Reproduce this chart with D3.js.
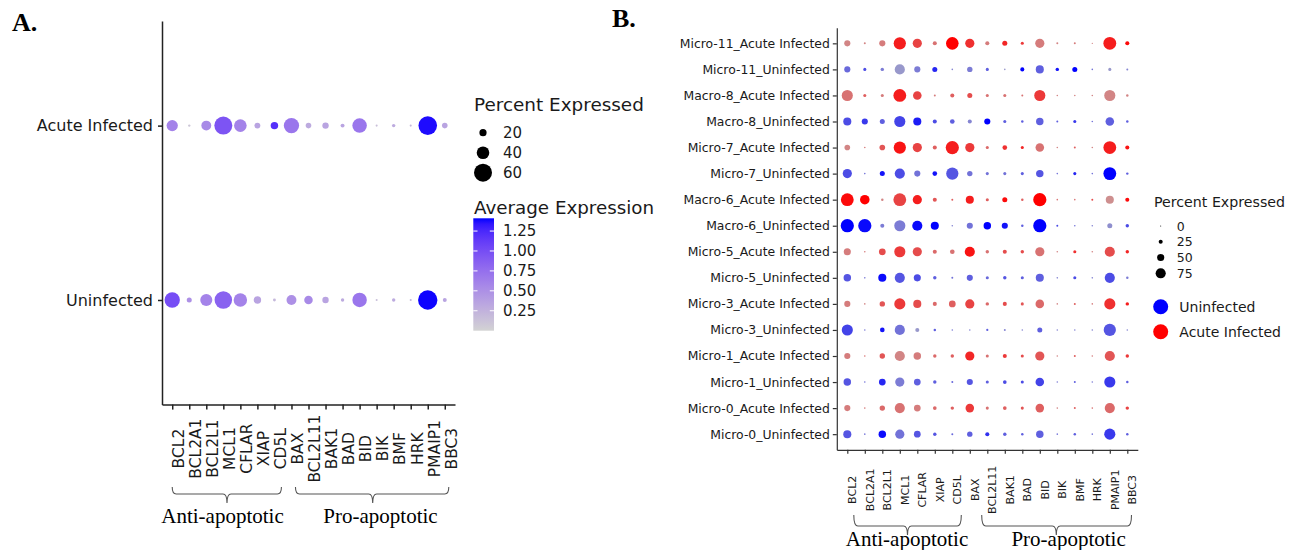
<!DOCTYPE html>
<html>
<head>
<meta charset="utf-8">
<script src="https://cdn.jsdelivr.net/npm/d3@7"></script>
<style>
  body { margin: 0; background: #fff; }
  svg { display: block; }
  .sans { font-family: "DejaVu Sans", sans-serif; }
  .serif { font-family: "Liberation Serif", "Times New Roman", serif; }
</style>
</head>
<body>
<svg id="chart" width="1303" height="550"></svg>
<script>
// genes on the x axis (both panels)
const genes = ["BCL2", "BCL2A1", "BCL2L1", "MCL1", "CFLAR", "XIAP", "CD5L", "BAX",
  "BCL2L11", "BAK1", "BAD", "BID", "BIK", "BMF", "HRK", "PMAIP1", "BBC3"];

// panel A: two groups
const groupsA = ["Acute Infected", "Uninfected"];
const pctAcuteA = [35, 2, 30, 60, 40, 15, 21, 50, 14, 17, 8, 47, 1, 6, 1, 62, 14];
const pctUninfA = [50, 12, 38, 58, 43, 21, 4, 30, 25, 17, 6, 47, 1, 6, 1, 65, 8];
const avgAcuteA = [0.6, 0.1, 0.55, 0.95, 0.6, 0.35, 1.2, 0.7, 0.3, 0.35, 0.35, 0.7, 0.15, 0.3, 0.2, 1.38, 0.35];
const avgUninfA = [1.0, 0.5, 0.6, 0.85, 0.6, 0.35, 0.2, 0.5, 0.55, 0.35, 0.3, 0.7, 0.15, 0.3, 0.2, 1.4, 0.35];
const sizeTicksA = [20, 40, 60];
const colorTicksA = [1.25, 1.00, 0.75, 0.50, 0.25];

// panel B: cluster x condition
const rowsB = ["Micro-11_Acute Infected", "Micro-11_Uninfected", "Macro-8_Acute Infected", "Macro-8_Uninfected",
  "Micro-7_Acute Infected", "Micro-7_Uninfected", "Macro-6_Acute Infected", "Macro-6_Uninfected",
  "Micro-5_Acute Infected", "Micro-5_Uninfected", "Micro-3_Acute Infected", "Micro-3_Uninfected",
  "Micro-1_Acute Infected", "Micro-1_Uninfected", "Micro-0_Acute Infected", "Micro-0_Uninfected"];
const pctB = [
  [42, 8, 42, 92, 67, 25, 95, 67, 25, 33, 17, 67, 8, 8, 3, 97, 25],
  [42, 17, 20, 75, 42, 33, 5, 36, 17, 5, 25, 58, 20, 33, 5, 17, 8],
  [83, 17, 17, 97, 62, 8, 25, 33, 17, 17, 8, 83, 5, 5, 5, 83, 12],
  [58, 42, 33, 83, 58, 25, 30, 25, 42, 17, 12, 53, 8, 17, 5, 62, 12],
  [38, 5, 38, 92, 67, 25, 100, 67, 17, 30, 17, 62, 5, 8, 5, 97, 25],
  [67, 5, 33, 75, 42, 30, 92, 36, 17, 17, 17, 53, 5, 17, 5, 97, 12],
  [97, 70, 12, 97, 67, 25, 8, 58, 17, 33, 12, 100, 5, 5, 8, 58, 25],
  [100, 100, 25, 83, 75, 58, 5, 42, 53, 42, 12, 100, 8, 5, 5, 33, 20],
  [50, 5, 47, 83, 67, 25, 30, 75, 20, 25, 20, 67, 5, 17, 5, 75, 20],
  [53, 5, 58, 75, 50, 20, 8, 42, 17, 20, 17, 58, 5, 17, 5, 75, 12],
  [42, 5, 36, 83, 58, 25, 47, 67, 20, 25, 17, 62, 5, 8, 5, 83, 20],
  [83, 5, 30, 75, 25, 12, 5, 5, 10, 8, 5, 33, 5, 5, 5, 92, 5],
  [42, 5, 36, 75, 53, 20, 20, 67, 17, 25, 17, 67, 5, 8, 5, 75, 20],
  [53, 5, 47, 67, 47, 20, 8, 42, 17, 22, 17, 62, 5, 8, 5, 83, 12],
  [42, 5, 36, 75, 47, 22, 20, 62, 17, 22, 17, 62, 5, 8, 5, 75, 20],
  [58, 5, 53, 67, 47, 20, 8, 36, 25, 20, 12, 53, 5, 12, 5, 83, 12]
];
// 0 = grey, 1 = full group colour
const levelB = [
  [0.3, 0.3, 0.35, 0.85, 0.65, 0.4, 1.0, 0.75, 0.35, 0.8, 0.7, 0.35, 0.3, 0.35, 0.3, 0.85, 0.95],
  [0.45, 0.6, 0.35, 0.2, 0.35, 0.8, 0.3, 0.35, 0.5, 0.2, 1.0, 0.5, 0.9, 1.0, 0.4, 0.2, 0.3],
  [0.4, 0.5, 0.35, 0.85, 0.65, 0.35, 0.5, 0.6, 0.4, 0.4, 0.4, 0.7, 0.3, 0.3, 0.3, 0.3, 0.3],
  [0.6, 0.7, 0.5, 0.65, 0.85, 0.6, 0.5, 0.3, 1.0, 0.5, 0.5, 0.5, 0.5, 0.7, 0.4, 0.5, 0.5],
  [0.3, 0.35, 0.55, 0.9, 0.65, 0.5, 0.85, 0.7, 0.45, 0.75, 0.8, 0.4, 0.3, 0.5, 0.3, 0.85, 0.9],
  [0.6, 0.4, 0.9, 0.6, 0.4, 0.9, 0.55, 0.4, 0.4, 0.4, 0.5, 0.55, 0.4, 0.8, 0.4, 1.0, 0.5],
  [0.95, 1.0, 0.3, 0.65, 0.85, 0.55, 0.5, 0.85, 0.5, 0.95, 0.5, 1.0, 0.4, 0.4, 0.6, 0.25, 0.95],
  [1.0, 0.95, 0.35, 0.35, 0.95, 1.0, 0.3, 0.4, 1.0, 0.9, 0.5, 1.0, 0.6, 0.4, 0.3, 0.25, 0.6],
  [0.35, 0.35, 0.6, 0.7, 0.6, 0.45, 0.4, 0.9, 0.4, 0.6, 0.6, 0.4, 0.3, 0.75, 0.3, 0.6, 0.8],
  [0.55, 0.35, 0.95, 0.55, 0.6, 0.5, 0.4, 0.5, 0.45, 0.55, 0.5, 0.5, 0.3, 0.6, 0.3, 0.6, 0.35],
  [0.35, 0.3, 0.55, 0.7, 0.6, 0.45, 0.5, 0.65, 0.45, 0.6, 0.55, 0.45, 0.3, 0.5, 0.35, 0.75, 0.85],
  [0.65, 0.35, 0.9, 0.4, 0.2, 0.5, 0.35, 0.3, 0.5, 0.3, 0.3, 0.5, 0.3, 0.3, 0.3, 0.55, 0.3],
  [0.35, 0.4, 0.55, 0.3, 0.35, 0.45, 0.5, 0.8, 0.4, 0.7, 0.6, 0.55, 0.3, 0.5, 0.35, 0.55, 0.7],
  [0.55, 0.4, 0.8, 0.35, 0.5, 0.5, 0.45, 0.55, 0.5, 0.6, 0.6, 0.65, 0.35, 0.5, 0.35, 0.7, 0.5],
  [0.35, 0.35, 0.45, 0.4, 0.35, 0.45, 0.5, 0.7, 0.4, 0.5, 0.55, 0.5, 0.3, 0.5, 0.4, 0.45, 0.65],
  [0.55, 0.4, 0.95, 0.4, 0.55, 0.55, 0.45, 0.5, 0.75, 0.5, 0.5, 0.5, 0.4, 0.5, 0.4, 0.7, 0.5]
];
const sizeTicksB = [0, 25, 50, 75];
const conditionsB = ["Uninfected", "Acute Infected"];
const conditionColors = ["blue", "red"];

const svg = d3.select("#chart");
svg.append("rect").attr("width", 1303).attr("height", 550).attr("fill", "#fff");

// ---------- panel A ----------
const xA = d3.scalePoint().domain(genes).range([162, 455]).padding(0.6);
const yA = d3.scalePoint().domain(groupsA).range([21, 404.6]).padding(0.6);
const rA = d3.scaleLinear().domain([0, 60]).range([0.9, 9]);
const colorA = d3.scaleLinear().domain([0, 1.41]).range(["lightgrey", "blue"])
  .interpolate(d3.interpolateLab);

const gA = svg.append("g");

gA.append("text").attr("class", "serif").attr("x", 12).attr("y", 31)
  .attr("font-size", 26).attr("font-weight", "bold").text("A.");

const dotsA = [];
genes.forEach((g, i) => {
  dotsA.push({ gene: g, group: groupsA[0], pct: pctAcuteA[i], avg: avgAcuteA[i] });
  dotsA.push({ gene: g, group: groupsA[1], pct: pctUninfA[i], avg: avgUninfA[i] });
});

gA.append("g").selectAll("circle")
  .data(dotsA)
  .enter()
  .append("circle")
  .attr("cx", d => xA(d.gene))
  .attr("cy", d => yA(d.group))
  .attr("r", d => rA(d.pct))
  .attr("fill", d => colorA(d.avg));

const axA = gA.append("g").attr("transform", "translate(162,0)")
  .call(d3.axisLeft(yA).tickSize(4).tickPadding(5).tickSizeOuter(0));
axA.selectAll("text").attr("class", "sans").attr("font-size", 16).attr("fill", "#1a1a1a");

const axAx = gA.append("g").attr("transform", "translate(0,404.6)")
  .call(d3.axisBottom(xA).tickSize(5).tickSizeOuter(0));
axAx.selectAll("text")
  .attr("class", "sans").attr("font-size", 15.5).attr("fill", "#1a1a1a")
  .attr("transform", "rotate(-90)")
  .attr("text-anchor", "middle")
  .attr("x", -44).attr("y", 11.3).attr("dy", 0);

[axA, axAx].forEach(a => {
  a.select(".domain").attr("stroke", "#222").attr("stroke-width", 1.5);
  a.selectAll(".tick line").attr("stroke", "#222").attr("stroke-width", 1.5);
});

function brace(g, x1, x2, cx, yTop, yH, yTip) {
  const q = 4;
  const p = `M${x1},${yTop} Q${x1},${yH} ${x1 + q},${yH} L${cx - q},${yH} Q${cx},${yH} ${cx},${yTip}`
    + ` M${cx},${yTip} Q${cx},${yH} ${cx + q},${yH} L${x2 - q},${yH} Q${x2},${yH} ${x2},${yTop}`;
  g.append("path").attr("d", p).attr("fill", "none").attr("stroke", "#555").attr("stroke-width", 1.1);
}

brace(gA, xA("BCL2"), xA("CD5L") + 7, 227, 487, 494, 503);
brace(gA, xA("BAX") + 4, xA("BBC3") + 4, 372.7, 487, 494, 503);
gA.append("text").attr("class", "serif").attr("font-size", 21).attr("text-anchor", "middle")
  .attr("x", 222.5).attr("y", 523).text("Anti-apoptotic");
gA.append("text").attr("class", "serif").attr("font-size", 21).attr("text-anchor", "middle")
  .attr("x", 380.5).attr("y", 523).text("Pro-apoptotic");

// legend A: size
const legA = gA.append("g");
legA.append("text").attr("class", "sans").attr("x", 474).attr("y", 110.7)
  .attr("font-size", 18.4).attr("fill", "#1a1a1a").text("Percent Expressed");
const sizeY = d3.scalePoint().domain(sizeTicksA).range([132.7, 172.7]);
legA.selectAll(".sz").data(sizeTicksA).enter().append("circle")
  .attr("cx", 483).attr("cy", d => sizeY(d)).attr("r", d => rA(d)).attr("fill", "#000");
legA.selectAll(".szl").data(sizeTicksA).enter().append("text")
  .attr("class", "sans").attr("x", 503).attr("y", d => sizeY(d)).attr("dy", "0.36em")
  .attr("font-size", 15).attr("fill", "#1a1a1a").text(d => d);

// legend A: colour bar
legA.append("text").attr("class", "sans").attr("x", 474).attr("y", 214)
  .attr("font-size", 18.3).attr("fill", "#1a1a1a").text("Average Expression");
const barY = d3.scaleLinear().domain(colorA.domain()).range([330.7, 218.3]);
const grad = svg.append("defs").append("linearGradient").attr("id", "gradA")
  .attr("x1", 0).attr("y1", 1).attr("x2", 0).attr("y2", 0);
d3.range(0, 1.0001, 0.05).forEach(t => {
  grad.append("stop").attr("offset", t)
    .attr("stop-color", colorA(colorA.domain()[0] + t * (colorA.domain()[1] - colorA.domain()[0])));
});
legA.append("rect").attr("x", 473.3).attr("y", barY.range()[1]).attr("width", 20.7)
  .attr("height", barY.range()[0] - barY.range()[1]).attr("fill", "url(#gradA)");
colorTicksA.forEach(v => {
  legA.append("line").attr("x1", 473.3).attr("x2", 477.5).attr("y1", barY(v)).attr("y2", barY(v))
    .attr("stroke", "#fff").attr("stroke-width", 1);
  legA.append("line").attr("x1", 489.8).attr("x2", 494).attr("y1", barY(v)).attr("y2", barY(v))
    .attr("stroke", "#fff").attr("stroke-width", 1);
  legA.append("text").attr("class", "sans").attr("x", 503).attr("y", barY(v)).attr("dy", "0.36em")
    .attr("font-size", 15).attr("fill", "#1a1a1a").text(v.toFixed(2));
});

// ---------- panel B ----------
const xB = d3.scalePoint().domain(genes).range([836.8, 1137.8]).padding(0.6);
const yB = d3.scalePoint().domain(rowsB).range([27.7, 449.8]).padding(0.6);
const rB = d3.scaleLinear().domain([0, 100]).range([0.5, 6.6]).clamp(true);
const rampB = conditionColors.map(c => d3.interpolateRgb("#BEBEBE", c));

const gB = svg.append("g");
gB.append("text").attr("class", "serif").attr("x", 612).attr("y", 27)
  .attr("font-size", 26).attr("font-weight", "bold").text("B.");

const dotsB = [];
rowsB.forEach((row, ri) => {
  const cond = row.endsWith("Uninfected") ? 0 : 1;
  genes.forEach((g, gi) => {
    dotsB.push({ row, gene: g, pct: pctB[ri][gi], lev: levelB[ri][gi], cond });
  });
});

gB.append("g").selectAll("circle")
  .data(dotsB)
  .enter()
  .append("circle")
  .attr("cx", d => xB(d.gene))
  .attr("cy", d => yB(d.row))
  .attr("r", d => rB(d.pct))
  .attr("fill", d => rampB[d.cond](d.lev));

const axB = gB.append("g").attr("transform", "translate(836.8,0)")
  .call(d3.axisLeft(yB).tickSize(4).tickPadding(3).tickSizeOuter(0));
axB.selectAll("text").attr("class", "sans").attr("font-size", 12.4).attr("fill", "#1a1a1a");

const axBx = gB.append("g").attr("transform", "translate(0,449.8)")
  .call(d3.axisBottom(xB).tickSize(4).tickSizeOuter(0));
axBx.selectAll("text")
  .attr("class", "sans").attr("font-size", 11).attr("fill", "#1a1a1a")
  .attr("transform", "rotate(-90)")
  .attr("text-anchor", "middle")
  .attr("x", -40).attr("y", 8.5).attr("dy", 0);

[axB, axBx].forEach(a => {
  a.select(".domain").attr("stroke", "#333").attr("stroke-width", 1.2);
  a.selectAll(".tick line").attr("stroke", "#333").attr("stroke-width", 1.2);
});

brace(gB, 853.8, 961.3, 907.5, 515, 526, 535);
brace(gB, 981.7, 1131.5, 1056.3, 515, 526, 535);
gB.append("text").attr("class", "serif").attr("font-size", 21).attr("text-anchor", "middle")
  .attr("x", 907).attr("y", 546).text("Anti-apoptotic");
gB.append("text").attr("class", "serif").attr("font-size", 21).attr("text-anchor", "middle")
  .attr("x", 1068.6).attr("y", 546).text("Pro-apoptotic");

// legend B
const legB = gB.append("g");
legB.append("text").attr("class", "sans").attr("x", 1154).attr("y", 207)
  .attr("font-size", 14.2).attr("fill", "#1a1a1a").text("Percent Expressed");
const sizeYB = d3.scalePoint().domain(sizeTicksB).range([226, 273.3]);
legB.selectAll(".sz").data(sizeTicksB).enter().append("circle")
  .attr("cx", 1160.7).attr("cy", d => sizeYB(d)).attr("r", d => rB(d)).attr("fill", "#000");
legB.selectAll(".szl").data(sizeTicksB).enter().append("text")
  .attr("class", "sans").attr("x", 1176.7).attr("y", d => sizeYB(d)).attr("dy", "0.36em")
  .attr("font-size", 12.5).attr("fill", "#1a1a1a").text(d => d);

const condY = d3.scalePoint().domain(conditionsB).range([306.7, 331.7]);
legB.selectAll(".cd").data(conditionsB).enter().append("circle")
  .attr("cx", 1160.7).attr("cy", d => condY(d)).attr("r", 7.5)
  .attr("fill", (d, i) => conditionColors[i]);
legB.selectAll(".cdl").data(conditionsB).enter().append("text")
  .attr("class", "sans").attr("x", 1179.3).attr("y", d => condY(d)).attr("dy", "0.36em")
  .attr("font-size", 14).attr("fill", "#1a1a1a").text(d => d);
</script>
</body>
</html>
